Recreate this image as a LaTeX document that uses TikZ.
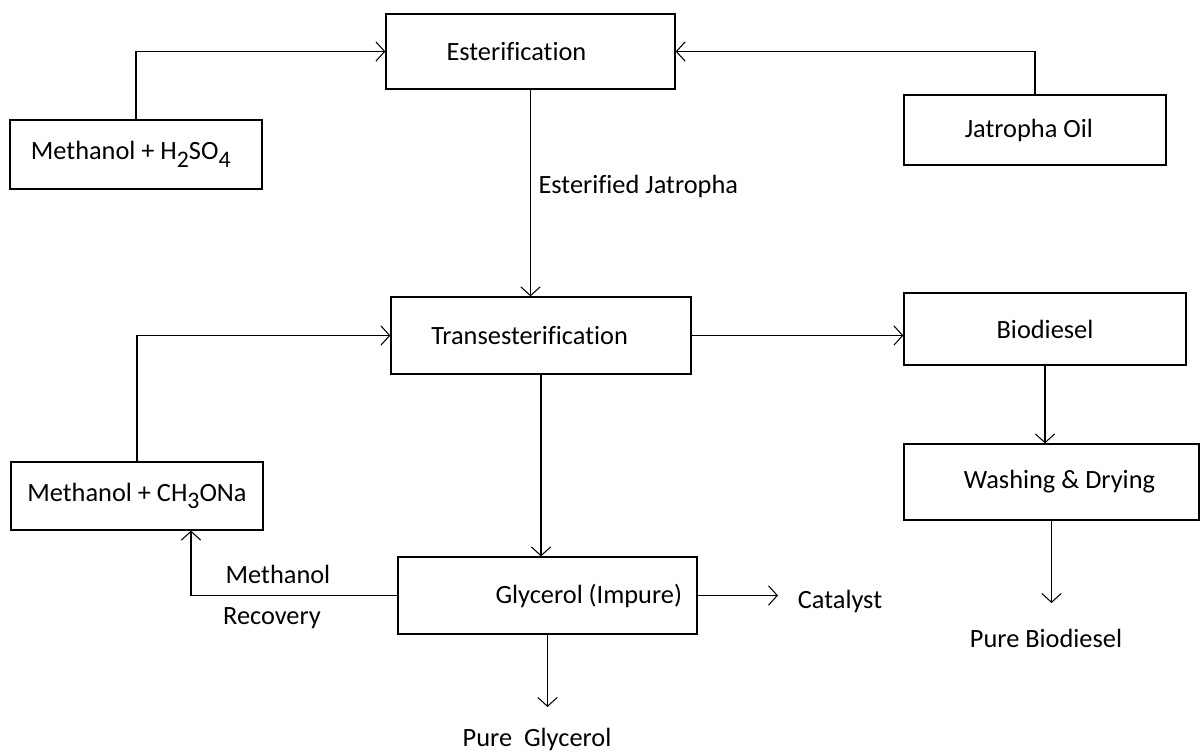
\documentclass[tikz,border=0pt]{standalone}
\usepackage{fontspec}
\setmainfont[Ligatures=NoCommon]{Carlito}
\usetikzlibrary{calc,arrows.meta}
\newcommand{\sub}[1]{\raisebox{-0.6ex}{\fontsize{13.5}{14}\selectfont #1}}

\begin{document}
\begin{tikzpicture}[x=0.02cm,y=-0.02cm,line width=0.7pt,
  box/.style={draw,rectangle,inner sep=0pt,font=\fontsize{15}{17}\selectfont},
  lbl/.style={font=\fontsize{15}{17}\selectfont,inner sep=0pt},
  flow/.style={-{Straight Barb[length=5pt,width=11pt,line width=0.6pt]}}]

  \useasboundingbox (0,0) rectangle (1200,751);

  \node [box,minimum width=289*0.02cm,minimum height=75*0.02cm] (est) at (530.5,51.5) {Esterification\hspace*{16pt}};
  \node [box,minimum width=252*0.02cm,minimum height=69*0.02cm] (mhs) at (136,154.5) {Methanol + H\sub{2}SO\sub{4}\hspace*{6pt}};
  \node [box,minimum width=262*0.02cm,minimum height=70*0.02cm] (jat) at (1035,130) {Jatropha Oil\hspace*{7pt}};

  \node [box,minimum width=300*0.02cm,minimum height=77*0.02cm] (trans) at (541,335.5) {Transesterification\hspace*{13pt}};
  \node [box,minimum width=252*0.02cm,minimum height=68*0.02cm] (mch) at (137,496) {Methanol + CH\sub{3}ONa};
  \node [box,minimum width=282*0.02cm,minimum height=72*0.02cm] (bio) at (1045,329) {Biodiesel};
  \node [box,minimum width=295*0.02cm,minimum height=76*0.02cm] (wash) at (1051.5,482) {\hspace*{9pt}Washing \& Drying};
  \node [box,minimum width=299*0.02cm,minimum height=77*0.02cm] (gly) at (547.5,595.5) {\hspace*{47pt}Glycerol (Impure)};

  % outlets
  \coordinate (pbtip) at (1051,603);
  \coordinate (cattip) at (778,595.5);
  \coordinate (pgtip) at (544,707);
  \node [lbl] (pb) at (1046,638) {Pure Biodiesel};
  \node [lbl] (cat) at (840,601) {Catalyst};
  \node [lbl] (pg) at (537,739) {Pure\ \ Glycerol};

  \node [lbl,anchor=west] (esj) at (538,186) {Esterified Jatropha};
  \node [lbl] (mrec) at (278,574) {Methanol};
  \node [lbl] (rec) at (272,618) {Recovery};

  \draw [flow] (mhs.north) |- (est.west);
  \draw [flow] (jat.north) |- (est.east);
  \draw [flow] (est.south) -- (est.south |- trans.north);
  \draw [flow] (mch.north) |- (trans.west);
  \draw [flow] (trans.east) -- (trans.east -| bio.west);
  \draw [flow] (bio.south) -- (bio.south |- wash.north);
  \draw [flow] (wash.south) -- (wash.south |- pbtip);
  \draw [flow] (trans.south) -- (trans.south |- gly.north);
  \draw [flow] (gly.east) -- (cattip);
  \draw [flow] (gly.west) -| ($(mch.south)+(54,0)$);
  \draw [flow] (gly.south) -- (gly.south |- pgtip);

\end{tikzpicture}
\end{document}
